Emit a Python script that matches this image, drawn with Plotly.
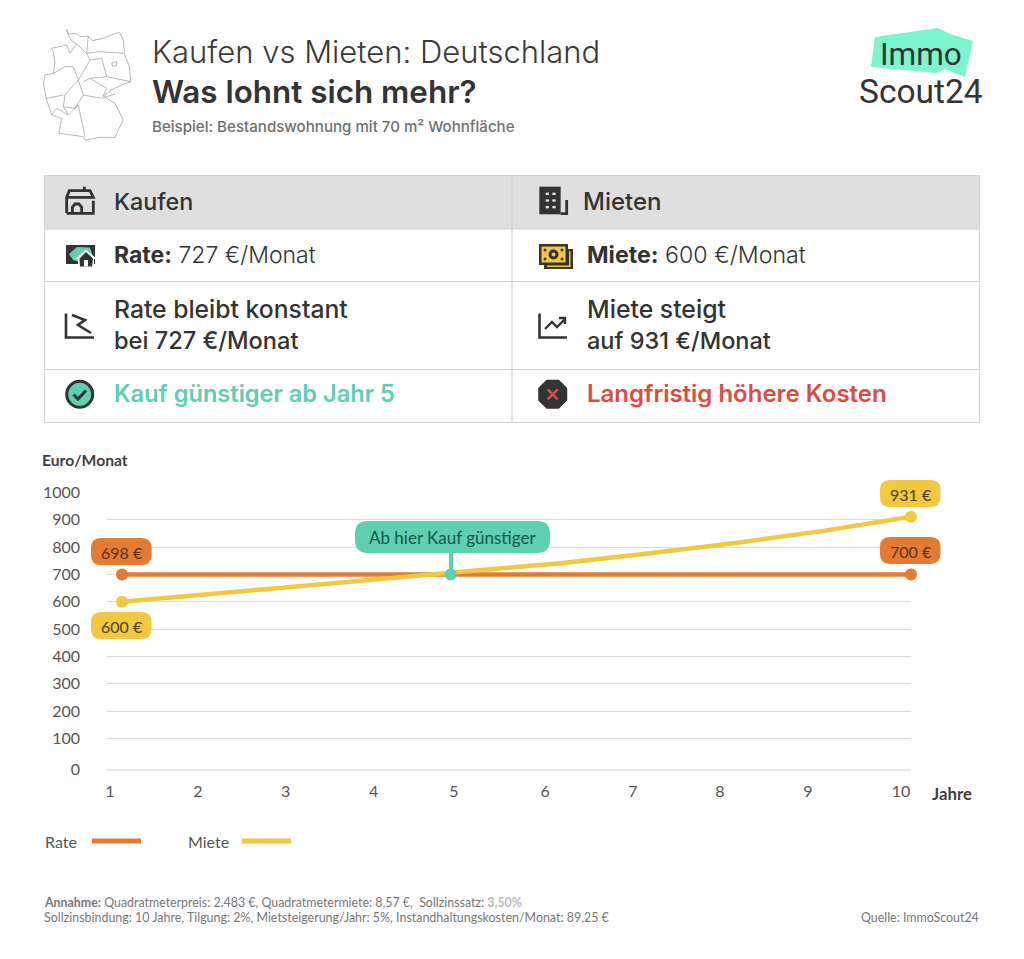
import plotly.graph_objects as go

# ---- chart data ----
years = [1, 2, 3, 4, 5, 6, 7, 8, 9, 10]
rate = [700, 700, 700, 700, 700, 700, 700, 700, 700, 700]
miete = [600, 628, 655, 681, 709, 741, 776, 815, 859, 911]
cross_year = [4.75]
cross_value = [700]
y_ticks = [-11, 100, 200, 300, 400, 500, 600, 700, 800, 900, 1000]
y_labels = ["0", "100", "200", "300", "400", "500", "600", "700", "800", "900", "1000"]
x_ticks = [1, 2, 3, 4, 4.914, 5.95, 6.95, 7.94, 8.94, 10]
x_labels = ["1", "2", "3", "4", "5", "6", "7", "8", "9", "10"]

FONT = "Lato"
TFONT = "Inter"
DARK = "#333333"
ORANGE = "#e47b33"
YELLOW = "#f1c83f"
TEAL = "#5ecfb0"
RED = "#df4b40"
W, H = 1024, 959


def X(x):
    return x / W


def Y(y):
    return 1 - y / H


def pth(points, close=False):
    s = "M" + " L".join(f"{X(a):.5f},{Y(b):.5f}" for a, b in points)
    return s + (" Z" if close else "")


shapes = []
annotations = []


def text(x, y, t, size, color=DARK, weight=400, anchor="left", family=FONT):
    annotations.append(dict(x=X(x), y=Y(y), xref="paper", yref="paper", text=t, showarrow=False,
                            xanchor=anchor, yanchor="middle", align=anchor, borderpad=0, borderwidth=0,
                            font=dict(family=family, size=size, color=color, weight=weight)))


def line(points, color=DARK, width=2, close=False, fill=None):
    d = dict(type="path", xref="paper", yref="paper", path=pth(points, close),
             line=dict(color=color, width=width))
    if fill:
        d["fillcolor"] = fill
    shapes.append(d)


def poly(points, fill):
    shapes.append(dict(type="path", xref="paper", yref="paper", path=pth(points, True),
                       fillcolor=fill, line=dict(width=0)))


def box(x0, y0, x1, y1, fill):
    poly([(x0, y0), (x1, y0), (x1, y1), (x0, y1)], fill)


def rrect(x0, y0, x1, y1, r, fill):
    p = (f"M{X(x0+r):.5f},{Y(y0):.5f} L{X(x1-r):.5f},{Y(y0):.5f} Q{X(x1):.5f},{Y(y0):.5f} {X(x1):.5f},{Y(y0+r):.5f} "
         f"L{X(x1):.5f},{Y(y1-r):.5f} Q{X(x1):.5f},{Y(y1):.5f} {X(x1-r):.5f},{Y(y1):.5f} "
         f"L{X(x0+r):.5f},{Y(y1):.5f} Q{X(x0):.5f},{Y(y1):.5f} {X(x0):.5f},{Y(y1-r):.5f} "
         f"L{X(x0):.5f},{Y(y0+r):.5f} Q{X(x0):.5f},{Y(y0):.5f} {X(x0+r):.5f},{Y(y0):.5f} Z")
    shapes.append(dict(type="path", xref="paper", yref="paper", path=p, fillcolor=fill, line=dict(width=0)))


def circle(cx, cy, r, fill, lc=None, lw=0):
    shapes.append(dict(type="circle", xref="paper", yref="paper", x0=X(cx - r), x1=X(cx + r),
                       y0=Y(cy + r), y1=Y(cy - r), fillcolor=fill,
                       line=dict(color=lc or fill, width=lw)))


# ---- header ----
text(152, 51, "Kaufen vs Mieten: Deutschland", 31, "#3a3a3a", 300, family=TFONT)
text(152, 92, "Was lohnt sich mehr?", 31.4, DARK, 600, family=TFONT)
text(152, 127, "Beispiel: Bestandswohnung mit 70 m² Wohnfläche", 15.1, "#6f6f6f", 500, family=TFONT)


# Germany outline (zoom-crop coordinates -> px)
def z(pts):
    return [(35 + a / 3, 20 + b / 3) for a, b in pts]


MAPC = "#9a9a9a"
MW = 0.7
germany = z([(95, 28), (100, 42), (125, 40), (135, 50), (160, 48), (172, 62), (205, 55), (240, 40), (255, 38),
             (265, 62), (268, 100), (283, 140), (287, 185), (260, 195), (228, 210), (205, 228),
             (240, 250), (265, 300), (250, 330), (240, 352), (195, 352), (150, 360), (145, 350), (110, 345),
             (72, 340), (80, 295), (50, 285), (35, 240), (25, 190), (30, 165), (55, 160), (60, 130), (55, 95),
             (50, 85), (95, 75), (105, 100), (125, 72), (110, 62), (100, 45)])
line(germany, MAPC, MW, close=True)
for seg in [
    [(55, 160), (90, 140), (115, 140), (130, 180), (90, 225), (85, 260), (120, 265), (145, 225), (130, 180)],
    [(35, 235), (85, 225)], [(85, 260), (100, 285), (65, 265), (50, 285)],
    [(100, 285), (130, 255), (150, 350)], [(145, 225), (200, 235), (240, 222)],
    [(145, 185), (165, 175), (215, 205), (205, 228)], [(165, 120), (200, 115), (215, 170), (165, 175)],
    [(165, 120), (155, 100), (125, 72)], [(155, 100), (190, 95), (265, 100)], [(215, 170), (287, 185)],
    [(130, 180), (165, 120)], [(160, 48), (155, 100)],
]:
    line(z(seg), MAPC, MW)
line(z([(230, 130), (245, 125), (245, 138), (232, 138)]), MAPC, MW, close=True)

# logo
poly([(875, 37), (938, 28), (950, 34), (973, 41), (965, 77), (945, 69), (937, 73), (871, 67)], "#7cf5ce")
text(921, 54, "Immo", 31.5, DARK, 400, "center", "Roboto")
text(921, 91, "Scout24", 33.5, DARK, 400, "center", "Roboto")

# ---- table ----
shapes.append(dict(type="rect", xref="paper", yref="paper", x0=X(44.5), x1=X(979.5), y0=Y(229), y1=Y(175.5),
                   fillcolor="#dfdfdf", line=dict(width=0)))
GRID = "#d4d4d4"
for yy in (175.5, 229, 281.5, 369.5, 422.5):
    line([(44.5, yy), (979.5, yy)], GRID, 1.2)
for xx in (44.5, 512, 979.5):
    line([(xx, 175.5), (xx, 422.5)], GRID, 1.2)

text(114, 202, "Kaufen", 23.3, DARK, 500, family=TFONT)
text(583, 202, "Mieten", 24, DARK, 500, family=TFONT)
text(114, 255, "<b>Rate:</b> 727 €/Monat", 23, DARK, 300, family=TFONT)
text(587, 255, "<b>Miete:</b> 600 €/Monat", 23.2, DARK, 300, family=TFONT)
text(114, 309, "Rate bleibt konstant", 24.7, DARK, 500, family=TFONT)
text(114, 340, "bei 727 €/Monat", 23.6, DARK, 500, family=TFONT)
text(587, 309, "Miete steigt", 24.8, DARK, 500, family=TFONT)
text(587, 340, "auf 931 €/Monat", 23.5, DARK, 500, family=TFONT)
text(114, 394, "Kauf günstiger ab Jahr 5", 23.6, TEAL, 600, family=TFONT)
text(587, 394, "Langfristig höhere Kosten", 24, RED, 600, family=TFONT)


# ---- icons ----
def ic(ox, oy, pts):
    return [(ox + a / 3, oy + b / 3) for a, b in pts]


# house
hx, hy = 55, 180
line(ic(hx, hy, [(35, 100), (35, 52), (43, 32), (105, 32), (115, 52), (35, 52)]), DARK, 2.8)
line(ic(hx, hy, [(35, 100), (115, 100), (115, 62)]), DARK, 2.8)
line(ic(hx, hy, [(88, 32), (88, 20)]), DARK, 2.8)
line(ic(hx, hy, [(52, 100), (52, 82), (60, 72), (72, 72), (80, 82), (80, 100)]), DARK, 2.8)
# green money
box(66, 245, 95, 264, DARK)
poly([(69, 254), (77, 247), (90, 247.5), (93, 257), (86, 252), (80, 262), (73, 260)], TEAL)
poly([(86, 249.5), (97, 259), (94, 259), (94, 268), (78, 268), (78, 259), (75, 259)], "#ffffff")
poly([(86, 252), (93, 258.5), (92, 266.5), (80, 266.5), (79.5, 258.5)], DARK)
box(84, 260, 88, 266.5, "#ffffff")

# building
bx, by = 530, 180
poly(ic(bx, by, [(28, 20), (92, 20), (92, 103), (28, 103)]), DARK)
for r in (38, 58, 78):
    for c in (47, 67):
        poly(ic(bx, by, [(c, r), (c + 10, r), (c + 10, r + 7), (c, r + 7)]), "#dfdfdf")
line(ic(bx, by, [(92, 101), (110, 101), (110, 60)]), DARK, 2.8)
# yellow money
box(544, 249, 573, 269, DARK)
box(547, 265.5, 570.5, 267, YELLOW)
box(569, 251, 570.5, 267, YELLOW)
box(539, 244, 568, 265, DARK)
box(541.5, 246.5, 565.5, 262.5, YELLOW)
circle(553.5, 254.5, 5, DARK)
circle(553.5, 254.5, 2, YELLOW)
for cx_, cy_ in [(545, 250), (562, 250), (545, 259), (562, 259)]:
    circle(cx_, cy_, 1.5, DARK)

# falling chart icon
line([(66, 313.5), (66, 337.5), (94, 337.5)], DARK, 2.6)
line([(72, 315), (85, 320), (78, 325), (91, 333)], DARK, 2.6)
# rising chart icon
line([(539.5, 313.5), (539.5, 337.5), (567, 337.5)], DARK, 2.6)
line([(545, 329), (552, 322), (557, 327), (565, 319)], DARK, 2.4)
line([(559, 318), (565, 318), (565, 324)], DARK, 2.4)
# check
circle(79.7, 394.3, 13, TEAL, DARK, 3)
line([(73.5, 394.5), (78, 399), (86, 390.5)], DARK, 3)
# cross
c, o = 552.7, 394.3
r1, r2 = 14.5, 6.2
poly([(c - r2, o - r1), (c + r2, o - r1), (c + r1, o - r2), (c + r1, o + r2), (c + r2, o + r1),
      (c - r2, o + r1), (c - r1, o + r2), (c - r1, o - r2)], DARK)
line([(c - 5, o - 5), (c + 5, o + 5)], RED, 2.6)
line([(c - 5, o + 5), (c + 5, o - 5)], RED, 2.6)

# ---- chart texts ----
text(42, 460, "Euro/Monat", 15.7, "#3f3f3f", 700)
text(932, 793, "Jahre", 16.8, "#3f3f3f", 700)
text(45, 841, "Rate", 16, "#555555", 400)
text(188, 841, "Miete", 16, "#555555", 400)
line([(92, 841), (141, 841)], ORANGE, 5)
line([(242, 841), (291, 841)], YELLOW, 5)

# connector and callouts
line([(451, 552), (451, 574)], TEAL, 4)
rrect(355, 521, 550, 553, 13, TEAL)
text(452.5, 537.5, "Ab hier Kauf günstiger", 17, "#14594a", 400, "center")
for x0, y0, lab, col, tc in [
    (91, 538, "698 €", ORANGE, "#5c3216"), (91, 612, "600 €", YELLOW, "#4f4215"),
    (880, 480, "931 €", YELLOW, "#4f4215"), (880, 537, "700 €", ORANGE, "#5c3216"),
]:
    rrect(x0, y0, x0 + 60.5, y0 + 27, 10, col)
    text(x0 + 30.5, y0 + 14, lab, 16, tc, 400, "center")

# footer
FC = "#777777"
FS = 12.4
text(44, 902, "<b>Annahme:</b> Quadratmeterpreis: 2.483 €, Quadratmetermiete: 8,57 €,  Sollzinssatz: "
     "<b><span style='color:#bbbbbb'>3,50%</span></b>", FS, FC, 400)
text(44, 917, "Sollzinsbindung: 10 Jahre, Tilgung: 2%, Mietsteigerung/Jahr: 5%, Instandhaltungskosten/Monat: 89,25 €",
     12.45, FC, 400)
text(979, 917, "Quelle: ImmoScout24", FS, FC, 400, "right")

# ---- traces ----
fig = go.Figure()
fig.add_trace(go.Scatter(x=years, y=rate, mode="none", showlegend=False))  # anchors the tick-label axis
fig.add_trace(go.Scatter(x=years, y=rate, name="Rate", xaxis="x2", mode="lines",
                         line=dict(color=ORANGE, width=4.5), cliponaxis=False, showlegend=False))
fig.add_trace(go.Scatter(x=[years[0], years[-1]], y=[rate[0], rate[-1]], xaxis="x2", mode="markers",
                         marker=dict(color=ORANGE, size=12), cliponaxis=False, showlegend=False))
fig.add_trace(go.Scatter(x=years, y=miete, name="Miete", xaxis="x2", mode="lines",
                         line=dict(color=YELLOW, width=4.5), cliponaxis=False, showlegend=False))
fig.add_trace(go.Scatter(x=[years[0], years[-1]], y=[miete[0], miete[-1]], xaxis="x2", mode="markers",
                         marker=dict(color=YELLOW, size=12), cliponaxis=False, showlegend=False))
fig.add_trace(go.Scatter(x=cross_year, y=cross_value, xaxis="x2", mode="markers",
                         marker=dict(color=TEAL, size=12), cliponaxis=False, showlegend=False))

AX = dict(family=FONT, size=16, color="#555555", weight=400)
fig.update_layout(
    width=W, height=H, margin=dict(l=0, r=0, t=0, b=0), paper_bgcolor="white", plot_bgcolor="white",
    showlegend=False, hovermode=False, shapes=shapes, annotations=annotations,
    xaxis=dict(domain=[X(107), X(911)], range=[0.966, 10.114], tickmode="array", tickvals=x_ticks,
               ticktext=x_labels, showgrid=False, zeroline=False, showline=True, linecolor="#e6e6e6",
               linewidth=2, ticks="", tickfont=AX, ticklabelstandoff=7, anchor="y", automargin=False),
    xaxis2=dict(domain=[X(107), X(911)], range=[0.829, 10.0], overlaying="x", visible=False, anchor="y",
                automargin=False),
    yaxis=dict(domain=[Y(769), Y(491.75)], range=[-11, 1002], tickmode="array", tickvals=y_ticks,
               ticktext=y_labels, gridcolor="#dcdcdc", gridwidth=1, zeroline=False, showline=False,
               ticks="", tickfont=AX, ticklabelstandoff=26, anchor="x", automargin=False),
)

fig.write_html("out.html", post_script="document.body.style.margin='0';", config=dict(displayModeBar=False))
